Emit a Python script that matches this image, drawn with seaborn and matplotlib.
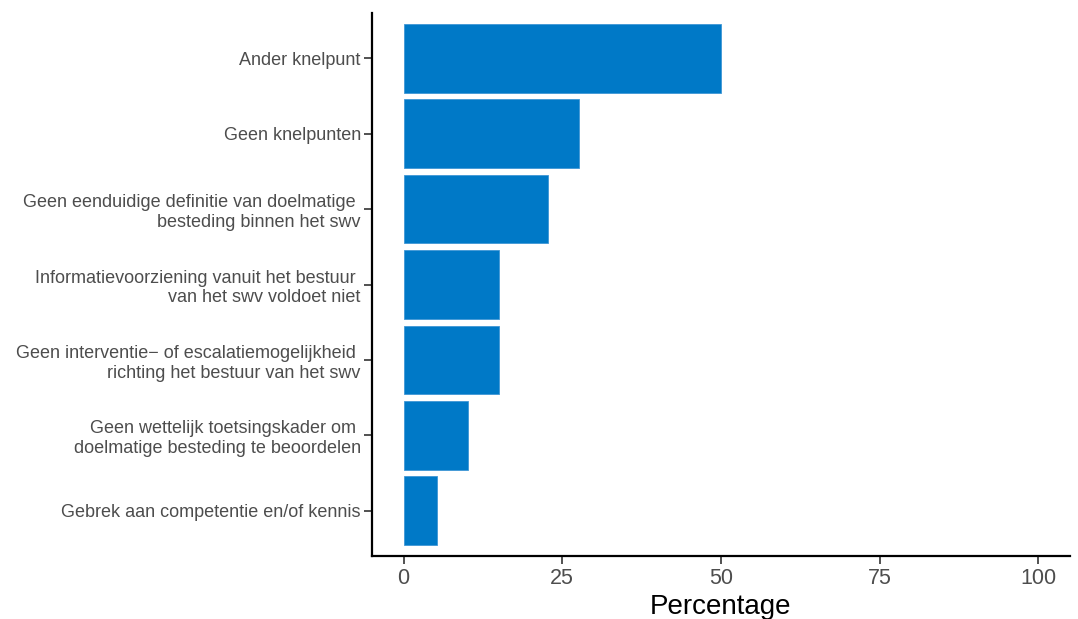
import matplotlib
matplotlib.use("Agg")
import matplotlib.pyplot as plt
import seaborn as sns
import pandas as pd

categories = [
    "Ander knelpunt",
    "Geen knelpunten",
    "Geen eenduidige definitie van doelmatige \nbesteding binnen het swv",
    "Informatievoorziening vanuit het bestuur \nvan het swv voldoet niet",
    "Geen interventie\u2212 of escalatiemogelijkheid \nrichting het bestuur van het swv",
    "Geen wettelijk toetsingskader om \ndoelmatige besteding te beoordelen",
    "Gebrek aan competentie en/of kennis",
]
percentages = [50.0, 27.6, 22.7, 15.1, 15.1, 10.2, 5.3]
x_ticks = [0, 25, 50, 75, 100]

df = pd.DataFrame({"Knelpunt": categories, "Percentage": percentages})

sns.set_style("ticks")
plt.rcParams["font.family"] = ["Liberation Sans", "DejaVu Sans"]

fig = plt.figure(figsize=(10.78, 6.19), dpi=100)
ax = fig.add_axes([0.345, 0.1018, 0.6476, 0.877])

sns.barplot(data=df, x="Percentage", y="Knelpunt", order=categories,
            color="#0079C7", saturation=1, width=0.91, orient="h", ax=ax,
            edgecolor="#3F97D6", linewidth=0.6)

ax.set_xlim(-5, 105)
ax.set_ylim(len(categories) - 1 + 0.6, -0.6)
ax.set_xticks(x_ticks)
ax.set_xticklabels([str(t) for t in x_ticks])
ax.set_ylabel("")
ax.set_xlabel("Percentage", fontsize=20, color="black", labelpad=3)

for s in ["top", "right"]:
    ax.spines[s].set_visible(False)
for s in ["left", "bottom"]:
    ax.spines[s].set_linewidth(1.6)
    ax.spines[s].set_color("black")

ax.tick_params(axis="both", length=6, width=1.2, color="#333333",
               labelcolor="#4D4D4D")
ax.tick_params(axis="y", labelsize=13, pad=2)
ax.tick_params(axis="x", labelsize=15.5, pad=3)
for lab in ax.get_yticklabels():
    lab.set_linespacing(1.2)

fig.savefig("out.png", dpi=100)
